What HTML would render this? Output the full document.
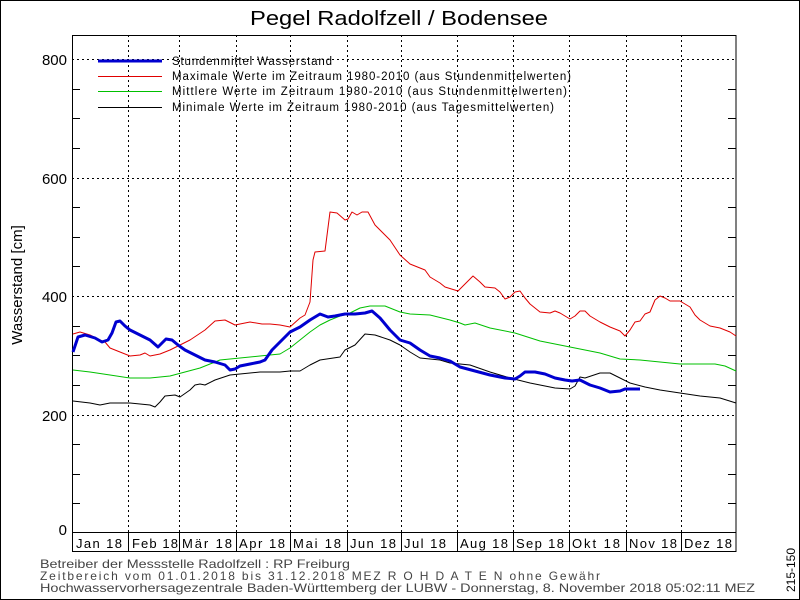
<!DOCTYPE html>
<html><head><meta charset="utf-8"><style>
html,body{margin:0;padding:0;background:#fff;}
svg{display:block;font-family:"Liberation Sans",sans-serif;}
</style></head><body>
<svg width="800" height="600" viewBox="0 0 800 600" xmlns="http://www.w3.org/2000/svg">
<rect x="0.5" y="0.5" width="799" height="599" fill="#fff" stroke="#000"/>
<text x="250" y="25" font-size="20" textLength="298" lengthAdjust="spacingAndGlyphs">Pegel Radolfzell / Bodensee</text>
<g stroke="#000" stroke-width="1" stroke-dasharray="2,3">
<line x1="72" y1="59.5" x2="736" y2="59.5"/>
<line x1="72" y1="178.5" x2="736" y2="178.5"/>
<line x1="72" y1="296.5" x2="736" y2="296.5"/>
<line x1="72" y1="415.5" x2="736" y2="415.5"/>
<line x1="128.5" y1="35" x2="128.5" y2="532"/>
<line x1="179.5" y1="35" x2="179.5" y2="532"/>
<line x1="236.5" y1="35" x2="236.5" y2="532"/>
<line x1="290.5" y1="35" x2="290.5" y2="532"/>
<line x1="347.5" y1="35" x2="347.5" y2="532"/>
<line x1="401.5" y1="35" x2="401.5" y2="532"/>
<line x1="457.5" y1="35" x2="457.5" y2="532"/>
<line x1="513.5" y1="35" x2="513.5" y2="532"/>
<line x1="569.5" y1="35" x2="569.5" y2="532"/>
<line x1="626.5" y1="35" x2="626.5" y2="532"/>
<line x1="681.5" y1="35" x2="681.5" y2="532"/>
</g>
<g stroke="#000">
<path d="M72 89.5h8M72 118.5h8M72 148.5h8M72 207.5h8M72 237.5h8M72 266.5h8M72 326.5h8M72 355.5h8M72 385.5h8M72 444.5h8M72 474.5h8M72 503.5h8"/>
<path d="M736 89.5h-8M736 118.5h-8M736 148.5h-8M736 207.5h-8M736 237.5h-8M736 266.5h-8M736 326.5h-8M736 355.5h-8M736 385.5h-8M736 444.5h-8M736 474.5h-8M736 503.5h-8"/>
</g>
<rect x="72.5" y="35.5" width="663.5" height="497" fill="none" stroke="#000"/>
<rect x="72.5" y="532.5" width="663.5" height="19" fill="none" stroke="#000"/>
<g stroke="#000"><path d="M128.5 532v19M179.5 532v19M236.5 532v19M290.5 532v19M347.5 532v19M401.5 532v19M457.5 532v19M513.5 532v19M569.5 532v19M626.5 532v19M681.5 532v19"/></g>
<g font-size="13" fill="#000" lengthAdjust="spacingAndGlyphs">
<text x="76" y="548" textLength="46">Jan 18</text><text x="132" y="548" textLength="46">Feb 18</text><text x="182" y="548" textLength="50">Mär 18</text>
<text x="239" y="548" textLength="46">Apr 18</text><text x="293" y="548" textLength="48">Mai 18</text><text x="350" y="548" textLength="46">Jun 18</text>
<text x="404" y="548" textLength="42">Jul 18</text><text x="460" y="548" textLength="48">Aug 18</text><text x="516" y="548" textLength="48">Sep 18</text>
<text x="572" y="548" textLength="48">Okt 18</text><text x="629" y="548" textLength="48">Nov 18</text><text x="684" y="548" textLength="48">Dez 18</text>
</g>
<g font-size="15" text-anchor="end">
<text x="67" y="65">800</text><text x="67" y="184">600</text><text x="67" y="302">400</text><text x="67" y="421">200</text><text x="67" y="535">0</text>
</g>
<text transform="translate(22,285) rotate(-90)" font-size="15" text-anchor="middle">Wasserstand [cm]</text>
<text transform="translate(795,570) rotate(-90)" font-size="12" text-anchor="middle">215-150</text>
<g font-size="12" fill="#444">
<text x="40" y="568" textLength="310" lengthAdjust="spacingAndGlyphs">Betreiber der Messstelle Radolfzell : RP Freiburg</text>
<text x="40" y="580" textLength="560" lengthAdjust="spacing">Zeitbereich vom 01.01.2018 bis 31.12.2018    MEZ    R O H D A T E N ohne Gewähr</text>
<text x="40" y="592" textLength="715" lengthAdjust="spacingAndGlyphs">Hochwasservorhersagezentrale Baden-Württemberg der LUBW - Donnerstag, 8. November 2018 05:02:11 MEZ</text>
</g>
<g fill="none" stroke-linejoin="round">
<polyline stroke="#000" stroke-width="1" points="73,401 90,403 100,405 110,403 130,403 150,405 155,407 160,402 165,396 175,395 180,397 190,390 195,385 200,384 205,385 215,380 230,375 240,374 260,372 280,372 290,371 300,371 310,365 320,360 340,357 345,350 355,345 365,334 375,335 390,340 400,345 410,352 420,358 440,360 450,363 460,364 470,365 490,372 510,378 530,383 555,388 570,389 575,386 580,377 585,378 600,373 610,373 620,378 630,383 645,387 660,390 680,393 700,396 720,398 736,403"/>
<polyline stroke="#00c000" stroke-width="1" points="73,370 90,372 110,375 130,378 150,378 170,376 185,372 200,368 220,360 240,358 260,356 280,354 290,348 300,340 310,332 320,325 330,320 340,316 350,313 360,308 370,306 385,306 400,312 410,314 430,315 450,320 460,323 465,325 475,323 490,328 515,333 540,341 560,345 580,349 600,353 620,359 640,360 660,362 680,364 700,364 715,364 725,366 736,371"/>
<polyline stroke="#e00000" stroke-width="1" points="73,334 80,332 90,335 100,340 105,342 110,348 120,352 130,356 140,355 145,353 150,356 160,354 170,350 180,345 190,340 205,330 215,321 225,320 235,325 250,322 262,324 270,324 280,325 290,327 300,318 305,315 310,302 313,260 315,252 325,251 330,212 337,213 345,220 348,219 352,212 357,215 362,212 368,212 375,225 385,235 390,240 400,255 410,264 425,270 430,277 440,283 445,287 458,291 465,284 473,276 480,282 485,287 495,288 500,292 505,299 510,297 515,292 520,291 525,298 530,304 540,312 550,313 555,311 560,313 570,319 575,316 580,311 585,311 590,316 600,322 610,327 620,331 625,336 630,330 635,322 640,321 645,314 650,312 655,300 660,296 665,298 670,301 680,301 690,307 695,315 700,320 710,326 720,328 730,332 736,336"/>
<polyline stroke="#0000d0" stroke-width="3" points="73,352 78,337 85,335 95,338 102,342 108,340 112,333 116,322 120,321 125,326 130,330 140,335 150,340 158,347 163,342 166,339 172,340 178,345 185,350 195,355 205,360 215,362 225,365 230,370 235,369 240,366 250,364 260,362 265,360 272,350 280,342 290,332 300,327 310,320 320,314 328,317 335,316 345,314 355,314 365,313 372,311 380,318 390,330 400,340 410,343 420,350 430,356 440,358 450,361 460,367 475,371 490,375 505,378 515,379 520,376 525,372 535,372 545,374 555,378 565,380 572,381 580,380 590,385 600,388 610,392 620,391 625,389 640,389"/>
</g>
<line x1="98" y1="61" x2="162" y2="61" stroke="#0000d0" stroke-width="3"/>
<line x1="98" y1="76.5" x2="162" y2="76.5" stroke="#e00000"/>
<line x1="98" y1="91.5" x2="162" y2="91.5" stroke="#00c000"/>
<line x1="98" y1="107.5" x2="162" y2="107.5" stroke="#000"/>
<g font-size="11.5" lengthAdjust="spacingAndGlyphs">
<text x="172" y="65" textLength="160">Stundenmittel Wasserstand</text>
<text x="172" y="80" textLength="399">Maximale Werte im Zeitraum 1980-2010 (aus Stundenmittelwerten)</text>
<text x="172" y="95" textLength="395">Mittlere Werte im Zeitraum 1980-2010 (aus Stundenmittelwerten)</text>
<text x="172" y="111" textLength="382">Minimale Werte im Zeitraum 1980-2010 (aus Tagesmittelwerten)</text>
</g>
</svg>
</body></html>
